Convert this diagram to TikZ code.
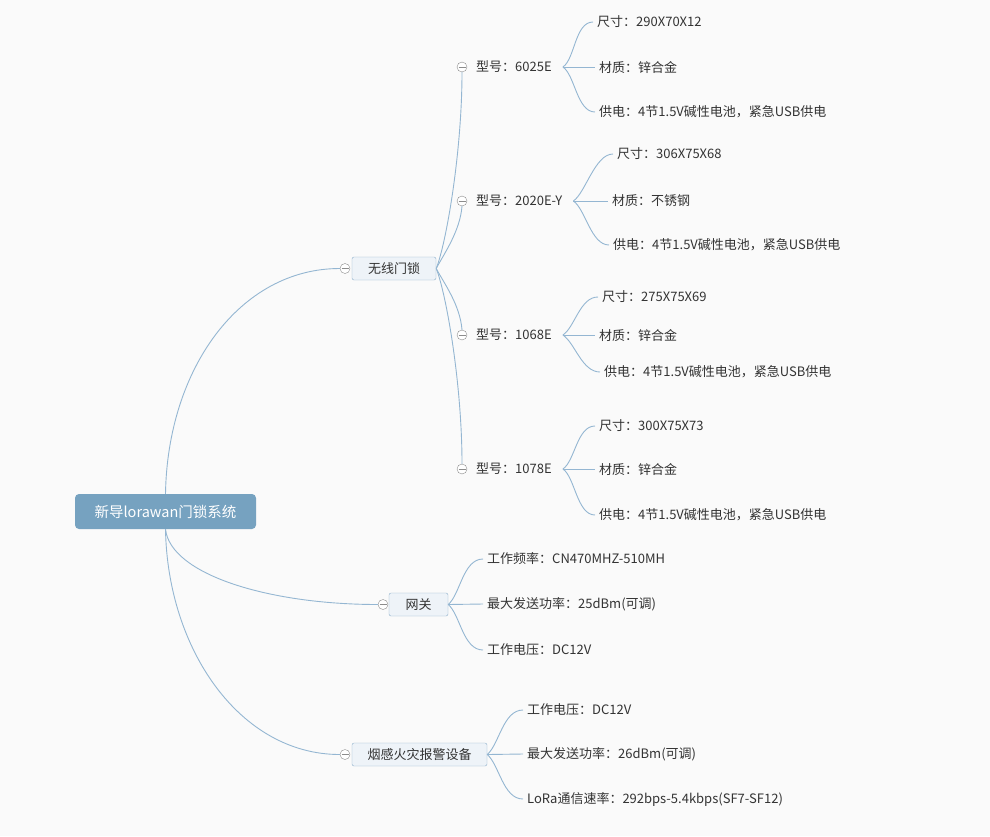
\documentclass[tikz,border=0pt]{standalone}
\usepackage{fontspec}
\setmainfont{Noto Sans CJK SC}
\usepackage{xcolor}
\definecolor{bgc}{HTML}{FAFAFA}
\definecolor{rootblue}{HTML}{76A2C0}
\definecolor{topicfill}{HTML}{EEF3F8}
\definecolor{topicline}{HTML}{8DB0CA}
\definecolor{linkblue}{HTML}{94B6D2}
\definecolor{inkgray}{HTML}{333333}
\usepackage{tikz}

\begin{document}
\begin{tikzpicture}[
  x=1pt,y=-1pt,
  every node/.style={font=\fontsize{13}{15}\selectfont,text=inkgray},
  rootbx/.style={fill=rootblue,rounded corners=4pt,minimum width=181pt,minimum height=35pt,text=white,font=\fontsize{14.5}{17}\selectfont},
  topicbx/.style={draw=topicline,fill=topicfill,rounded corners=2pt,minimum height=23pt,inner sep=0pt},
  model/.style={anchor=west,inner xsep=11pt},
  leaf/.style={anchor=west,inner xsep=4pt},
  fold/.style={circle,draw=black!45,fill=white,minimum size=10pt,inner sep=0pt,
    path picture={\draw[black!45] ([xshift=-3.5pt]path picture bounding box.center) -- ([xshift=3.5pt]path picture bounding box.center);}},
  ln/.style={draw=linkblue,line width=0.9pt}
]
\useasboundingbox[fill=bgc] (0,0) rectangle (990,836);

% root and main topics
\node[rootbx] (root) at (165.5,511.5) {新导lorawan门锁系统};
\node[topicbx,minimum width=84pt] (lock) at (394,268.5) {无线门锁};
\node[topicbx,minimum width=59pt] (gw) at (418.5,604.5) {网关};
\node[topicbx,minimum width=135pt] (smoke) at (419.5,754.5) {烟感火灾报警设备};
\node[fold] (fl) at (345,268.5) {};
\node[fold] (fg) at (383,604.5) {};
\node[fold] (fs) at (345,754.5) {};
\draw[ln] (root.north) .. controls +(2,-125) and +(-100,0) .. (fl.west);
\draw[ln] (root.south) .. controls +(5,45) and +(-110,0) .. (fg.west);
\draw[ln] (root.south) .. controls +(2,120) and +(-100,0) .. (fs.west);

% lock models
\node[fold] (f1) at (462,67) {};
\node[fold] (f2) at (462,201) {};
\node[fold] (f3) at (462,335) {};
\node[fold] (f4) at (462,469) {};
\node[model] (m1) at (465,67) {型号：6025E};
\node[model] (m2) at (465,201) {型号：2020E-Y};
\node[model] (m3) at (465,335) {型号：1068E};
\node[model] (m4) at (465,469) {型号：1078E};
\draw[ln] (lock.east) .. controls +(10,-25) and +(0,80) .. (f1.south);
\draw[ln] (lock.east) .. controls +(8,-15) and +(-2,25) .. (f2.south);
\draw[ln] (lock.east) .. controls +(8,15) and +(-2,-25) .. (f3.north);
\draw[ln] (lock.east) .. controls +(10,25) and +(0,-80) .. (f4.north);

\node[leaf] (s1) at (593,22) {尺寸：290X70X12};
\node[leaf] (c1) at (595,67) {材质：锌合金};
\node[leaf] (p1) at (595,112) {供电：4节1.5V碱性电池，紧急USB供电};
\node[leaf] (s2) at (613,154) {尺寸：306X75X68};
\node[leaf] (c2) at (608,201) {材质：不锈钢};
\node[leaf] (p2) at (609,245) {供电：4节1.5V碱性电池，紧急USB供电};
\node[leaf] (s3) at (598,297) {尺寸：275X75X69};
\node[leaf] (c3) at (595,335) {材质：锌合金};
\node[leaf] (p3) at (600,372) {供电：4节1.5V碱性电池，紧急USB供电};
\node[leaf] (s4) at (595,426) {尺寸：300X75X73};
\node[leaf] (c4) at (595,469) {材质：锌合金};
\node[leaf] (p4) at (595,515) {供电：4节1.5V碱性电池，紧急USB供电};
\foreach \m/\s/\c/\p in {m1/s1/c1/p1,m2/s2/c2/p2,m3/s3/c3/p3,m4/s4/c4/p4}{
  \draw[ln] (\m.east) .. controls +(12,-8) and +(-18,0) .. (\s.west);
  \draw[ln] (\m.east) -- (\c.west);
  \draw[ln] (\m.east) .. controls +(12,8) and +(-18,0) .. (\p.west);
}

% gateway
\node[leaf] (g1) at (483,559) {工作频率：CN470MHZ-510MH};
\node[leaf] (g2) at (483,604) {最大发送功率：25dBm(可调)};
\node[leaf] (g3) at (483,650) {工作电压：DC12V};
\draw[ln] (gw.east) .. controls +(12,-10) and +(-20,0) .. (g1.west);
\draw[ln] (gw.east) -- (g2.west);
\draw[ln] (gw.east) .. controls +(12,10) and +(-20,0) .. (g3.west);

% smoke alarm
\node[leaf] (a1) at (523,710) {工作电压：DC12V};
\node[leaf] (a2) at (523,754) {最大发送功率：26dBm(可调)};
\node[leaf] (a3) at (523,799) {LoRa通信速率：292bps-5.4kbps(SF7-SF12)};
\draw[ln] (smoke.east) .. controls +(12,-10) and +(-20,0) .. (a1.west);
\draw[ln] (smoke.east) -- (a2.west);
\draw[ln] (smoke.east) .. controls +(12,10) and +(-20,0) .. (a3.west);
\end{tikzpicture}
\end{document}
